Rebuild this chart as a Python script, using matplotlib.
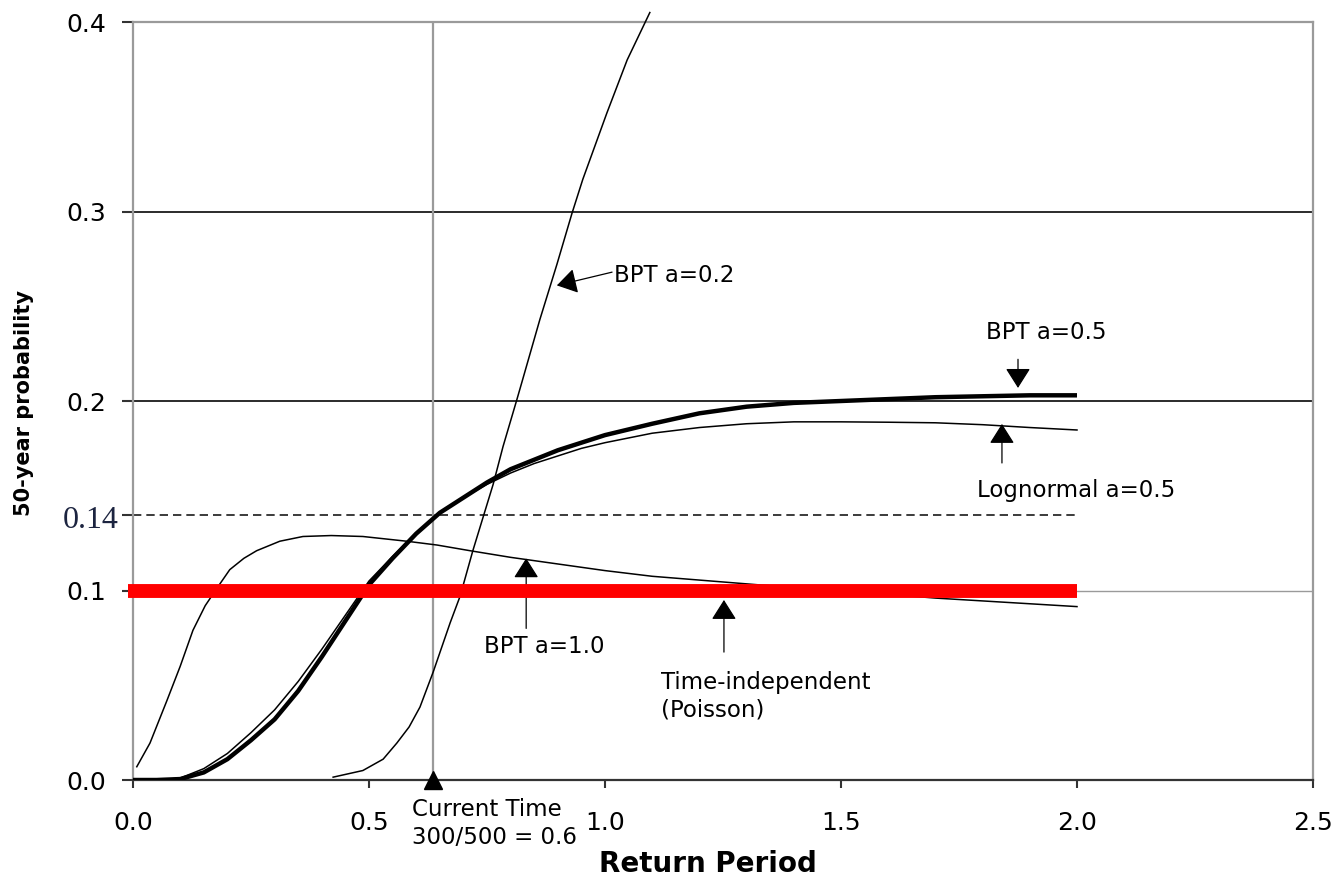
import matplotlib
matplotlib.use("Agg")
import matplotlib.pyplot as plt

# ---------------- data ----------------
x_bpt10 = [0.008, 0.036, 0.072, 0.1, 0.127, 0.153, 0.18, 0.205, 0.235, 0.262, 0.311, 0.36,
           0.42, 0.487, 0.58, 0.644, 0.714, 0.8, 0.9, 1.0, 1.1, 1.2, 1.3, 1.4, 1.5, 1.6,
           1.7, 1.8, 1.9, 2.0]
y_bpt10 = [0.007, 0.0195, 0.042, 0.060, 0.079, 0.092, 0.102, 0.111, 0.117, 0.121, 0.126,
           0.1285, 0.129, 0.1285, 0.126, 0.124, 0.121, 0.1175, 0.114, 0.1105, 0.1075, 0.1055,
           0.1035, 0.1015, 0.0995, 0.098, 0.096, 0.0945, 0.093, 0.0915]

x_bpt05 = [0.0, 0.05, 0.1, 0.15, 0.2, 0.25, 0.3, 0.35, 0.4, 0.45, 0.5, 0.55, 0.6, 0.65, 0.7,
           0.75, 0.8, 0.85, 0.9, 0.95, 1.0, 1.1, 1.2, 1.3, 1.4, 1.5, 1.6, 1.7, 1.8, 1.9, 2.0]
y_bpt05 = [0.0, 0.0, 0.0005, 0.004, 0.011, 0.021, 0.032, 0.047, 0.065, 0.084, 0.103, 0.117,
           0.130, 0.141, 0.149, 0.157, 0.164, 0.169, 0.174, 0.178, 0.182, 0.188, 0.1935, 0.197,
           0.199, 0.200, 0.201, 0.202, 0.2025, 0.203, 0.203]

x_logn = [0.0, 0.05, 0.1, 0.15, 0.2, 0.25, 0.3, 0.35, 0.4, 0.45, 0.5, 0.55, 0.6, 0.65, 0.7,
          0.75, 0.8, 0.85, 0.9, 0.95, 1.0, 1.1, 1.2, 1.3, 1.4, 1.5, 1.6, 1.7, 1.8, 1.9, 2.0]
y_logn = [0.0, 0.0, 0.001, 0.006, 0.014, 0.025, 0.037, 0.052, 0.069, 0.087, 0.105, 0.118,
          0.130, 0.141, 0.149, 0.156, 0.162, 0.167, 0.171, 0.175, 0.178, 0.183, 0.186, 0.188,
          0.189, 0.189, 0.1888, 0.1885, 0.1875, 0.186, 0.1847]

x_bpt02 = [0.424, 0.487, 0.53, 0.559, 0.585, 0.608, 0.636, 0.672, 0.693, 0.72, 0.763, 0.784,
           0.813, 0.824, 0.862, 0.898, 0.930, 0.953, 1.004, 1.047, 1.095]
y_bpt02 = [0.0015, 0.005, 0.011, 0.0195, 0.028, 0.0385, 0.057, 0.083, 0.097, 0.121, 0.156,
           0.176, 0.2005, 0.210, 0.243, 0.272, 0.299, 0.317, 0.352, 0.380, 0.405]

poisson_prob = 0.1
poisson_end = 2.0
current_time = 0.635
ref_prob = 0.14

xticks = [0.0, 0.5, 1.0, 1.5, 2.0, 2.5]
xtick_labels = ["0.0", "0.5", "1.0", "1.5", "2.0", "2.5"]
yticks = [0.0, 0.1, 0.14, 0.2, 0.3, 0.4]
ytick_labels = ["0.0", "0.1", "", "0.2", "0.3", "0.4"]
special_label = "0.14"

# ---------------- figure ----------------
plt.rcParams['font.family'] = ['DejaVu Sans']
fig = plt.figure(figsize=(13.4, 8.8), dpi=100)
ax = fig.add_axes([133/1340, 100/880, (1313-133)/1340, (780-22)/880])
ax.set_xlim(0, 2.5)
ax.set_ylim(0, 0.4)

# frame
for s in ['left', 'top', 'right']:
    ax.spines[s].set_color('#9a9a9a')
    ax.spines[s].set_linewidth(1.6)
ax.spines['bottom'].set_color('#333333')
ax.spines['bottom'].set_linewidth(1.6)

# grid lines
for gy in [0.2, 0.3]:
    ax.axhline(gy, color='#1a1a1a', lw=1.3, zorder=1)
ax.plot([0, poisson_end], [ref_prob, ref_prob], color='#1a1a1a', lw=1.2,
        dashes=(5, 3), zorder=1)
ax.axhline(poisson_prob, color='#9a9a9a', lw=1.0, zorder=1)

# current time vertical line
ax.axvline(current_time, color='#9a9a9a', lw=1.6, zorder=1)

# curves
ax.plot(x_bpt10, y_bpt10, color='black', lw=1.1, zorder=3)
ax.plot(x_logn, y_logn, color='black', lw=1.1, zorder=3)
ax.plot(x_bpt05, y_bpt05, color='black', lw=3.2, zorder=3, solid_capstyle='butt')
ax.plot(x_bpt02, y_bpt02, color='black', lw=1.1, zorder=3, clip_on=False)

# Poisson (red)
ax.plot([-0.01, poisson_end], [poisson_prob, poisson_prob], color='#ff0000', lw=10,
        solid_capstyle='butt', zorder=5, clip_on=False)

# current time marker
ax.plot([current_time], [0.0], marker='^', color='black', ms=13, zorder=6, clip_on=False)

# ticks
ax.set_xticks(xticks)
ax.set_xticklabels(xtick_labels)
ax.set_yticks(yticks)
ax.set_yticklabels(ytick_labels)
ax.tick_params(axis='x', direction='out', length=6, width=1.5, color='#333333', pad=16,
               labelsize=18)
ax.tick_params(axis='y', direction='out', length=8, width=1.5, color='#333333', pad=11,
               labelsize=18)
# the 0.14 label is set in a serif face in the original
fig.text(119/1340, 1 - 521/880, special_label, fontfamily='Liberation Serif', fontsize=23,
         color='#1c2440', ha='right', va='center')

# annotations
arrow_style = '-|>,head_length=0.95,head_width=0.6'
akw = dict(arrowstyle=arrow_style, color='black', lw=0.9, mutation_scale=13, shrinkA=0, shrinkB=0)
tsize = 16.5

ax.annotate('', xy=(0.898, 0.261), xytext=(1.015, 0.268), arrowprops=akw)
ax.text(1.02, 0.266, 'BPT a=0.2', fontsize=tsize, ha='left', va='center')

ax.annotate('', xy=(1.875, 0.2069), xytext=(1.875, 0.222), arrowprops=akw)
ax.text(1.934, 0.236, 'BPT a=0.5', fontsize=tsize, ha='center', va='center')

ax.annotate('', xy=(1.841, 0.1879), xytext=(1.841, 0.1673), arrowprops=akw)
ax.text(1.998, 0.153, 'Lognormal a=0.5', fontsize=tsize, ha='center', va='center')

ax.annotate('', xy=(0.833, 0.117), xytext=(0.833, 0.080), arrowprops=akw)
ax.text(0.871, 0.0702, 'BPT a=1.0', fontsize=tsize, ha='center', va='center')

ax.annotate('', xy=(1.252, 0.095), xytext=(1.252, 0.0675), arrowprops=akw)
ax.text(1.119, 0.0517, 'Time-independent', fontsize=tsize, ha='left', va='center')
ax.text(1.119, 0.037, '(Poisson)', fontsize=tsize, ha='left', va='center')

# Current time label (below axis)
fig.text(412/1340, 1 - 809/880, 'Current Time', fontsize=tsize, ha='left', va='center')
fig.text(412/1340, 1 - 837/880, '300/500 = 0.6', fontsize=tsize, ha='left', va='center')

# axis labels
fig.text(708/1340, 1 - 864/880, 'Return Period', fontsize=20, fontweight='bold',
         ha='center', va='center')
fig.text(24/1340, 1 - 403/880, '50-year probability', fontsize=15, fontweight='bold',
         rotation=90, ha='center', va='center')

fig.savefig('out.png', dpi=100)
